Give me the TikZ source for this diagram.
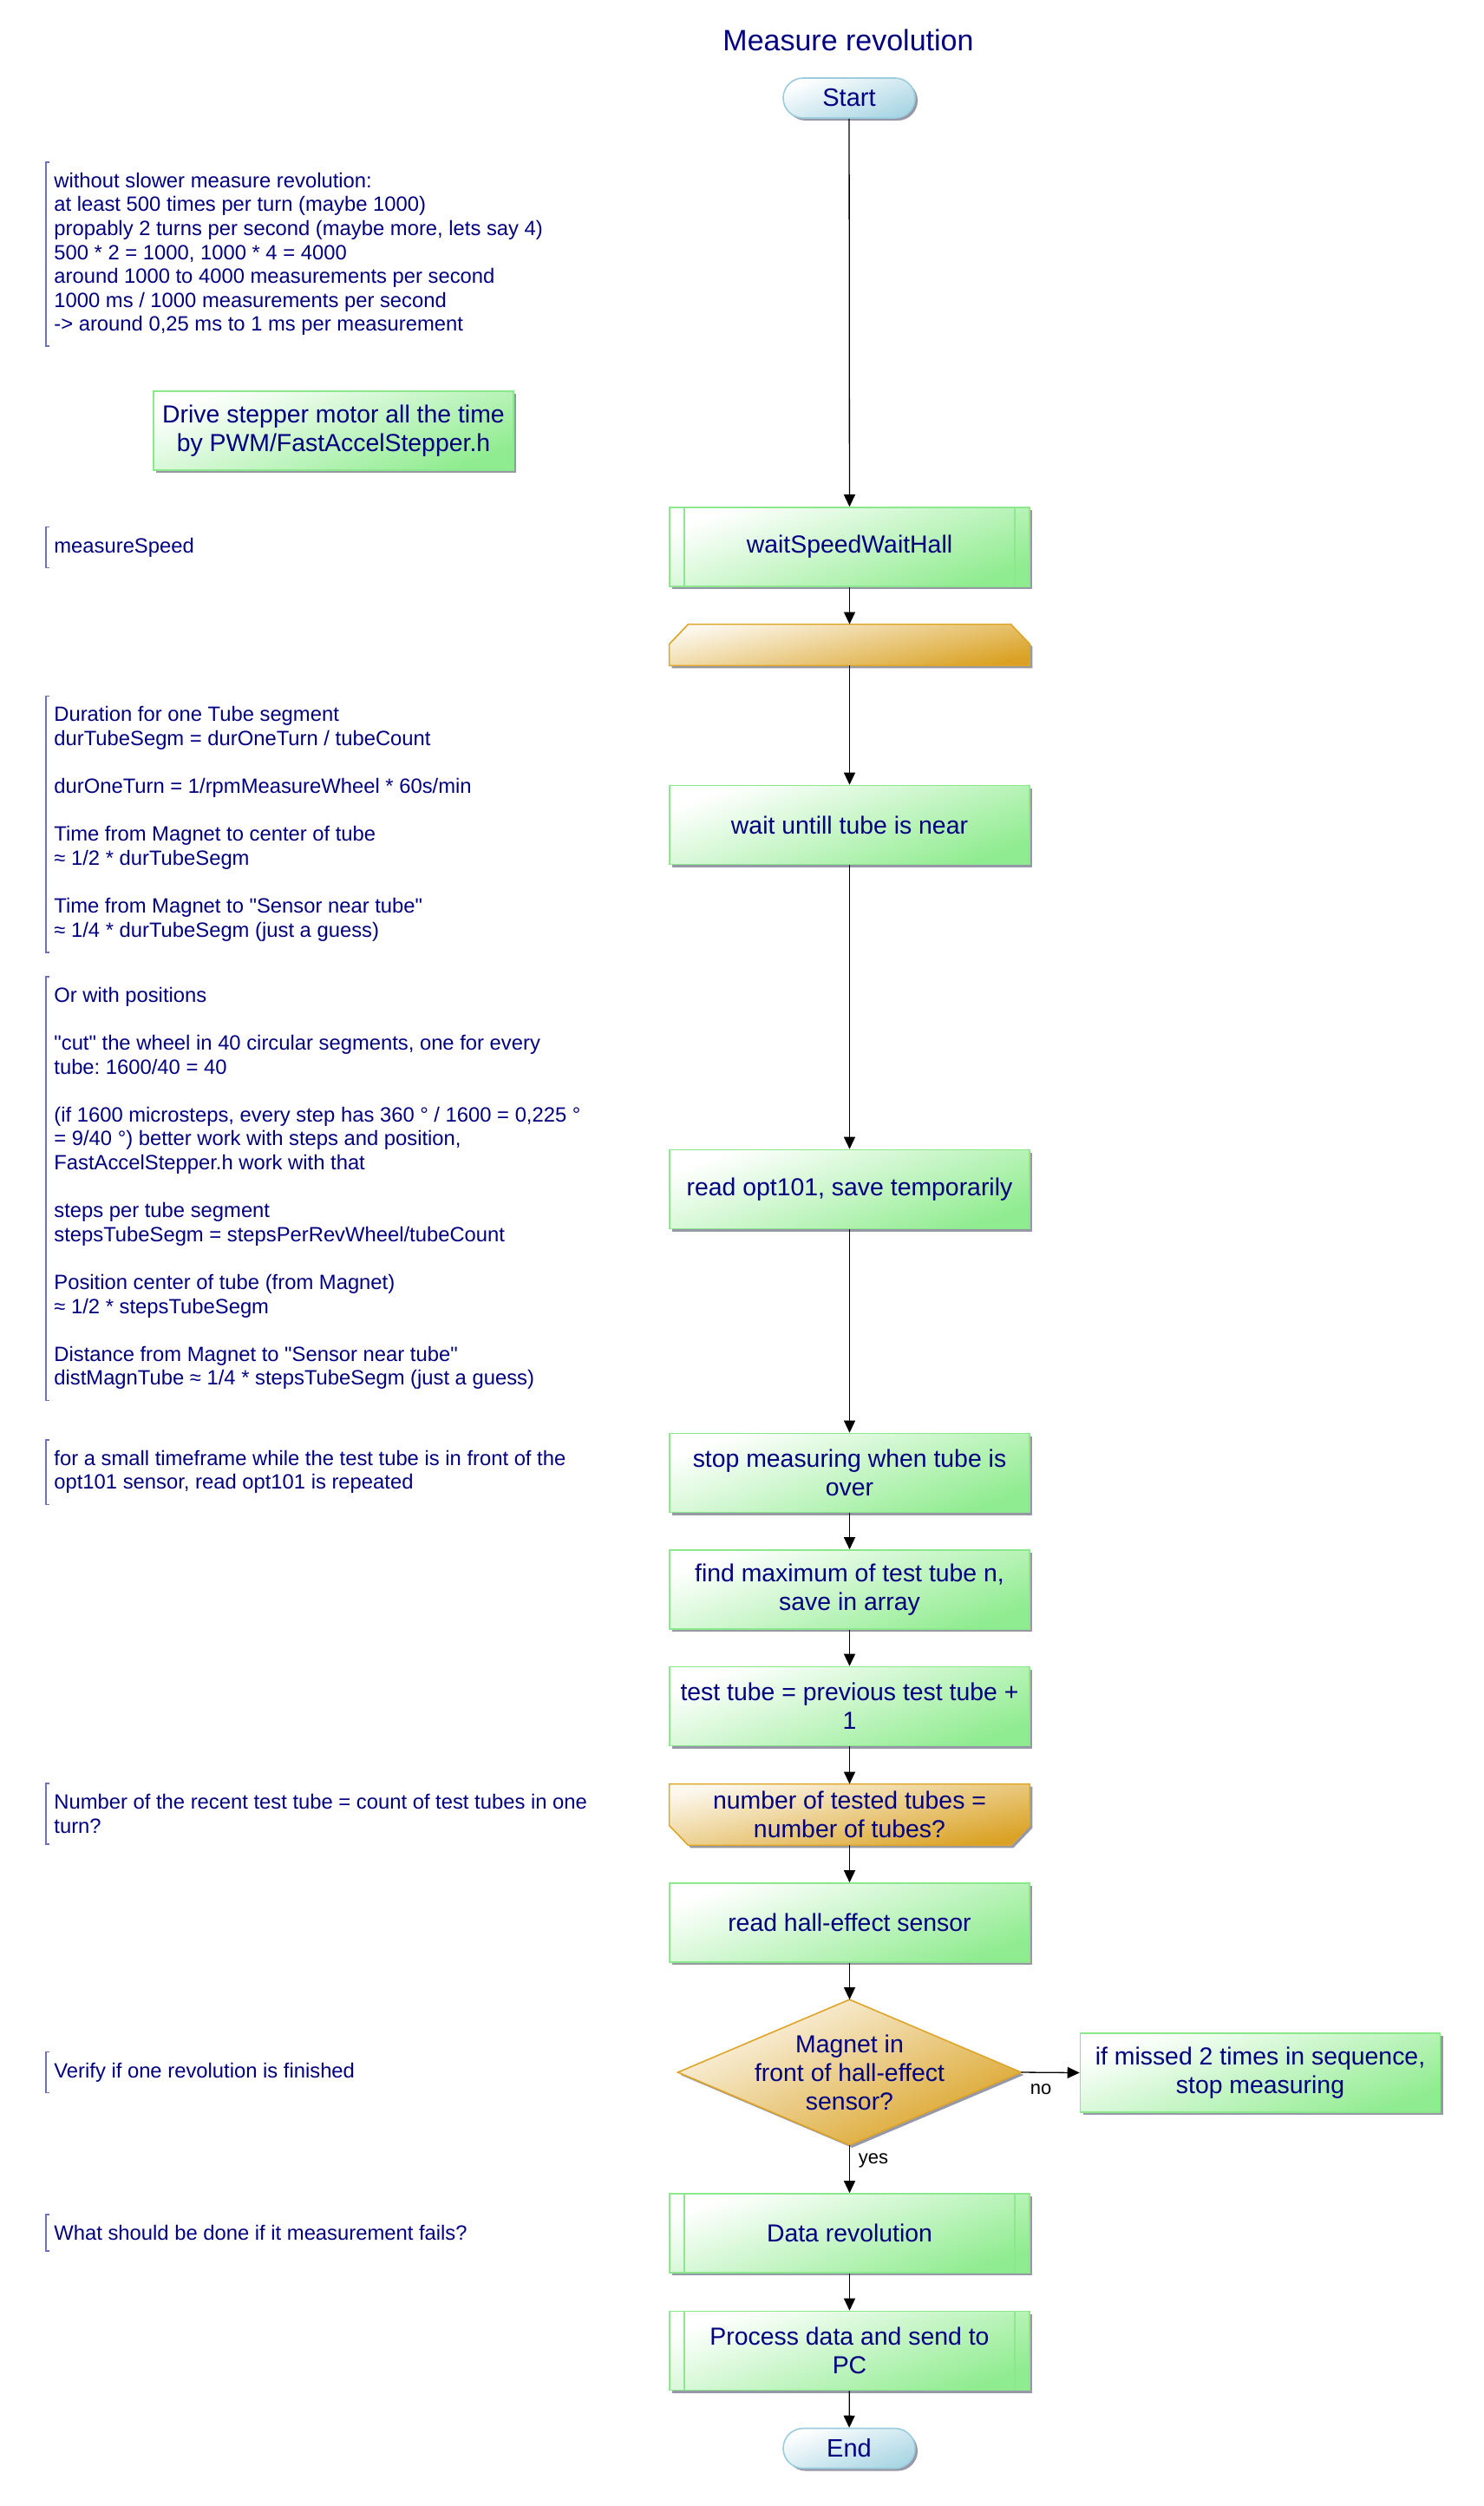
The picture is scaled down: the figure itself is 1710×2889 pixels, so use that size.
\documentclass[tikz,border=0pt]{standalone}
\usepackage{fontspec}
\setmainfont{Liberation Sans}[Ligatures=TeXOff]
\frenchspacing
\usetikzlibrary{arrows.meta,shadows}
\definecolor{mrnavy}{RGB}{0,0,128}
\definecolor{mrgreen}{RGB}{144,236,144}
\definecolor{mrgreenline}{RGB}{140,232,140}
\definecolor{mrgold}{RGB}{218,162,36}
\definecolor{mrgoldline}{RGB}{222,165,40}
\definecolor{mrblue}{RGB}{170,214,228}
\definecolor{mrblueline}{RGB}{155,205,222}
\definecolor{mrbrack}{RGB}{112,112,192}
\definecolor{mrshadow}{RGB}{150,152,168}
\newcommand{\mrnote}[3]{%
  \node[mrtext] (#1) at (53,#2) {#3};
  \draw[mrbracket] ([xshift=2pt]#1.north west) -- (#1.north west)
    -- (#1.south west) -- ([xshift=2pt]#1.south west);
}
\newcommand{\mrsub}[1]{%
  \draw[mrbar] ([xshift=9pt]#1.north west) -- ([xshift=9pt]#1.south west);
  \draw[mrbar] ([xshift=-9pt]#1.north east) -- ([xshift=-9pt]#1.south east);
}

\begin{document}
\begin{tikzpicture}[x=.5pt,y=-.5pt,
    mrshade/.style={drop shadow={shadow xshift=1.5pt,shadow yshift=-1.5pt,fill=mrshadow,opacity=1}},
    mrbox/.style={mrshade,draw=mrgreenline,line width=.8pt,top color=white,bottom color=mrgreen,
      shading angle=20,minimum width=207.5pt,minimum height=45.5pt,inner sep=0pt,align=center,
      text=mrnavy,font=\fontsize{14.2}{16.5}\selectfont},
    mrterm/.style={mrshade,draw=mrblueline,line width=.8pt,top color=white,bottom color=mrblue,
      shading angle=20,rounded corners=11.5pt,minimum width=76pt,minimum height=23pt,inner sep=0pt,
      text=mrnavy,font=\fontsize{14.5}{17}\selectfont},
    mrgoldfill/.style={mrshade,draw=mrgoldline,line width=.8pt,top color=mrgold!8,
      bottom color=mrgold,shading angle=12},
    mrplain/.style={minimum width=207.5pt,inner sep=0pt,align=center,text=mrnavy,
      font=\fontsize{14.2}{16.5}\selectfont},
    mrtext/.style={anchor=west,align=left,inner xsep=4.5pt,inner ysep=6pt,text=mrnavy,
      font=\fontsize{11.9}{13.8}\selectfont},
    mrbracket/.style={draw=mrbrack,line width=.8pt},
    mrbar/.style={draw=mrgreenline,line width=.8pt},
    mrarrow/.style={draw=black,line width=.65pt,-{Triangle[length=7pt,width=6.5pt]}},
    mrlabel/.style={inner sep=1pt,font=\fontsize{11}{13}\selectfont}]
  \useasboundingbox (0,0) rectangle (1710,2889);

  % title and main column
  \node[text=mrnavy,font=\fontsize{17}{20}\selectfont] (title) at (978,46) {Measure revolution};
  \node[mrterm] (start) at (979,113) {Start};
  \node[mrbox] (wsh) at (979.5,630.5) {waitSpeedWaitHall};
  \mrsub{wsh}
  \node[mrplain,minimum height=23.5pt] (loopA) at (979.5,743.5) {};
  \path[mrgoldfill] (loopA.south west) -- ([yshift=-11.5pt]loopA.north west)
    -- ([xshift=11pt]loopA.north west) -- ([xshift=-11pt]loopA.north east)
    -- ([yshift=-11.5pt]loopA.north east) -- (loopA.south east) -- cycle;
  \node[mrbox] (near) at (979.5,951) {wait untill tube is near};
  \node[mrbox] (opt) at (979.5,1371) {read opt101, save temporarily};
  \node[mrbox] (stop) at (979.5,1698) {stop measuring when tube is\\over};
  \node[mrbox] (maxi) at (979.5,1832.5) {find maximum of test tube n,\\save in array};
  \node[mrbox] (inc) at (979.5,1967) {test tube = previous test tube +\\1};
  \node[mrplain,minimum height=35pt] (loopB) at (979.5,2092) {};
  \path[mrgoldfill] (loopB.north west) -- ([yshift=11.5pt]loopB.south west)
    -- ([xshift=11pt]loopB.south west) -- ([xshift=-11pt]loopB.south east)
    -- ([yshift=11.5pt]loopB.south east) -- (loopB.north east) -- cycle;
  \node[mrplain] at (loopB) {number of tested tubes =\\number of tubes?};
  \node[mrbox] (hall) at (979.5,2216.5) {read hall-effect sensor};
  \node[mrplain,minimum width=197.5pt,minimum height=83.5pt] (magnet) at (979.5,2389) {};
  \path[mrgoldfill,shading angle=25] (magnet.north) -- (magnet.east) -- (magnet.south) -- (magnet.west) -- cycle;
  \node[mrplain] at (magnet) {Magnet in\\front of hall-effect\\sensor?};
  \node[mrbox] (missed) at (1453,2389.5) {if missed 2 times in sequence,\\stop measuring};
  \node[mrbox] (datarev) at (979.5,2574.5) {Data revolution};
  \mrsub{datarev}
  \node[mrbox] (proc) at (979.5,2710) {Process data and send to\\PC};
  \mrsub{proc}
  \node[mrterm] (end) at (979,2822.5) {End};

  % side box
  \node[mrbox] (drive) at (384.5,496.5) {Drive stepper motor all the time\\by PWM/FastAccelStepper.h};

  % connectors
  \draw[mrarrow] (start) -- (wsh);
  \draw[mrarrow] (wsh) -- (loopA);
  \draw[mrarrow] (loopA) -- (near);
  \draw[mrarrow] (near) -- (opt);
  \draw[mrarrow] (opt) -- (stop);
  \draw[mrarrow] (stop) -- (maxi);
  \draw[mrarrow] (maxi) -- (inc);
  \draw[mrarrow] (inc) -- (loopB);
  \draw[mrarrow] (loopB) -- (hall);
  \draw[mrarrow] (hall) -- (magnet.north);
  \draw[mrarrow] (magnet.east) -- (missed.west);
  \draw[mrarrow] (magnet.south) -- (datarev);
  \draw[mrarrow] (datarev) -- (proc);
  \draw[mrarrow] (proc) -- (end);
  \node[mrlabel] (nolbl) at (1200,2409) {no};
  \node[mrlabel] (yeslbl) at (1007,2491) {yes};

  % comments
  \mrnote{c1}{293}{without slower measure revolution:\\at least 500 times per turn (maybe 1000)\\propably 2 turns per second (maybe more, lets say 4)\\500 * 2 = 1000, 1000 * 4 = 4000\\around 1000 to 4000 measurements per second\\1000 ms / 1000 measurements per second\\-> around 0,25 ms to 1 ms per measurement}
  \mrnote{c2}{631}{measureSpeed}
  \mrnote{c3}{950}{Duration for one Tube segment\\durTubeSegm = durOneTurn / tubeCount\\[13.8pt]durOneTurn = 1/rpmMeasureWheel * 60s/min\\[13.8pt]Time from Magnet to center of tube\\≈ 1/2 * durTubeSegm\\[13.8pt]Time from Magnet to "Sensor near tube"\\≈ 1/4 * durTubeSegm (just a guess)}
  \mrnote{c4}{1370}{Or with positions\\[13.8pt]"cut" the wheel in 40 circular segments, one for every\\tube: 1600/40 = 40\\[13.8pt](if 1600 microsteps, every step has 360 ° / 1600 = 0,225 °\\= 9/40 °) better work with steps and position,\\FastAccelStepper.h work with that\\[13.8pt]steps per tube segment\\stepsTubeSegm = stepsPerRevWheel/tubeCount\\[13.8pt]Position center of tube (from Magnet)\\≈ 1/2 * stepsTubeSegm\\[13.8pt]Distance from Magnet to "Sensor near tube"\\distMagnTube ≈ 1/4 * stepsTubeSegm (just a guess)}
  \mrnote{c5}{1697}{for a small timeframe while the test tube is in front of the\\opt101 sensor, read opt101 is repeated}
  \mrnote{c6}{2091}{Number of the recent test tube = count of test tubes in one\\turn?}
  \mrnote{c7}{2389}{Verify if one revolution is finished}
  \mrnote{c8}{2574}{What should be done if it measurement fails?}
\end{tikzpicture}
\end{document}
